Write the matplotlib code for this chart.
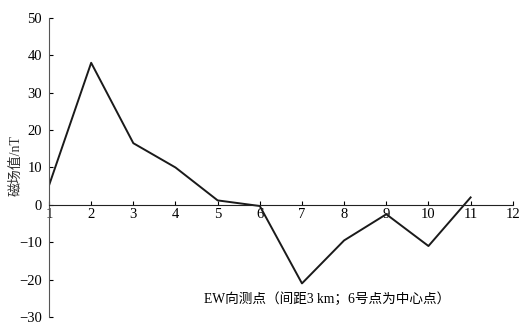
import numpy as np
import matplotlib.pyplot as plt

plt.rcParams['font.family'] = ['Liberation Serif', 'Noto Sans CJK SC']

points = [1, 2, 3, 4, 5, 6, 7, 8, 9, 10, 11]
field = [5.2, 38, 16.5, 10, 1.2, -0.3, -21, -9.5, -2.5, -11, 2]
xticks = list(range(1, 13))
yticks = list(range(-30, 51, 10))

fig = plt.figure(figsize=(5.27, 3.32), dpi=100)
ax = fig.add_axes([0.093, 0.045, 0.88, 0.901])
ax.plot(points, field, color='#1a1a1a', lw=1.4)

ax.set_xlim(1, 12)
ax.set_ylim(-30, 50)
ax.spines['top'].set_visible(False)
ax.spines['right'].set_visible(False)
ax.spines['bottom'].set_position(('data', 0))
ax.spines['left'].set_color('#555555')
ax.spines['bottom'].set_color('#222222')
ax.set_xticks(xticks)
ax.set_yticks(yticks)
ax.tick_params(axis='x', direction='in', length=3, pad=2, labelsize=10.5)
ax.tick_params(axis='y', direction='in', length=3, pad=5, labelsize=10.5)
ax.set_yticklabels(['−30', '−20', '−10', '0', '10', '20', '30', '40', '50'])

fig.text(0.03, 0.50, '磁场值/nT', rotation=90, ha='center', va='center', fontsize=10, color='#333333')
fig.text(0.62, 0.10, 'EW向测点（间距3 km；6号点为中心点）', ha='center', va='center', fontsize=9.8)

fig.savefig('out.png', dpi=100)
